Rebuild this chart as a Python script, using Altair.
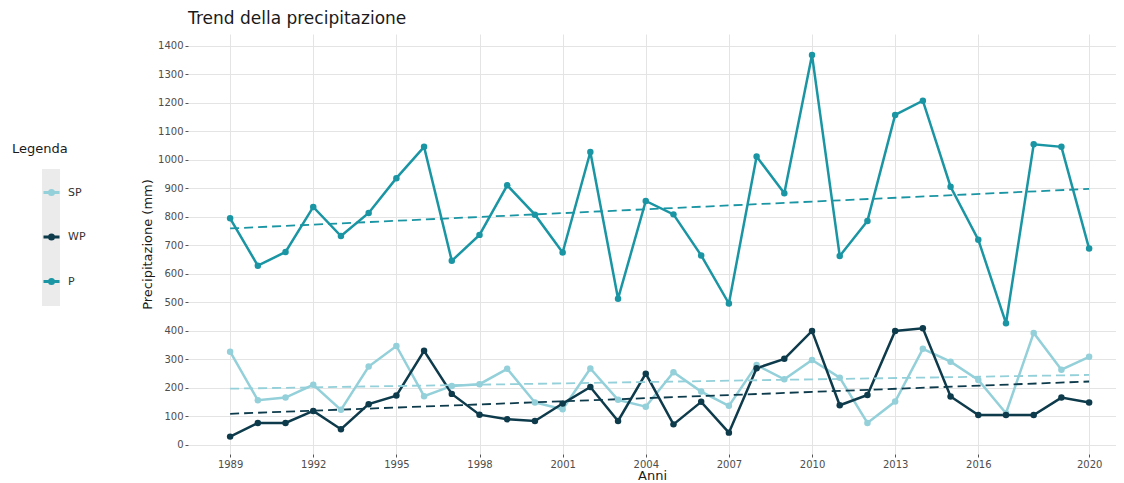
import altair as alt
import pandas as pd

years = list(range(1989, 2021))
P = [795, 629, 677, 835, 733, 814, 936, 1046, 646, 737, 911, 808, 675, 1028, 513, 856,
     809, 665, 496, 1012, 883, 1368, 663, 786, 1158, 1208, 906, 720, 427, 1055, 1046, 689]
SP = [327, 157, 166, 211, 123, 275, 347, 171, 207, 213, 267, 149, 125, 268, 158, 134,
      255, 187, 137, 280, 230, 298, 236, 77, 152, 337, 292, 228, 111, 393, 264, 309]
WP = [29, 77, 77, 119, 55, 143, 173, 330, 179, 106, 90, 84, 145, 203, 84, 250,
      72, 151, 43, 269, 302, 400, 139, 175, 400, 409, 170, 105, 105, 105, 166, 149]
series = ["SP", "WP", "P"]
colors = ["#93d0d9", "#0e3b4c", "#1a95a3"]
x_ticks = [1989, 1992, 1995, 1998, 2001, 2004, 2007, 2010, 2013, 2016, 2020]
y_ticks = list(range(0, 1500, 100))

df = pd.DataFrame({
    "Anno": years * 3,
    "Serie": ["SP"] * len(years) + ["WP"] * len(years) + ["P"] * len(years),
    "Valore": SP + WP + P,
})

FONT = "DejaVu Sans"

color = alt.Color(
    "Serie:N",
    scale=alt.Scale(domain=series, range=colors),
    legend=alt.Legend(
        title=None, orient="none", legendX=-146, legendY=149,
        symbolType="M-1,0L1,0M-0.25,0A0.25,0.25 0 1,0 0.25,0A0.25,0.25 0 1,0 -0.25,0",
        symbolSize=256, symbolStrokeWidth=3, rowPadding=26.5,
        labelFontSize=11, labelColor="#333333", labelFont=FONT, padding=0, labelOffset=7,
    ),
)

x = alt.X("Anno:Q",
          scale=alt.Scale(domain=[1987.48, 2020.97], nice=False, zero=False),
          axis=alt.Axis(values=x_ticks, format="d", title="Anni"))
y = alt.Y("Valore:Q",
          scale=alt.Scale(domain=[-32, 1442], nice=False, zero=False),
          axis=alt.Axis(values=y_ticks, format="d", title="Precipitazione (mm)"))

base = alt.Chart(df).encode(x=x, y=y, color=color)

lines = base.mark_line(strokeWidth=2.5)
points = base.mark_circle(size=42, opacity=1)
trend = base.transform_regression("Anno", "Valore", groupby=["Serie"]).mark_line(
    strokeDash=[9, 5], strokeWidth=1.8)

legend_bg = alt.Chart(pd.DataFrame({"k": [0]})).mark_rect(color="#ebebeb").encode(
    x=alt.value(-146), x2=alt.value(-128), y=alt.value(135), y2=alt.value(272))
legend_title = alt.Chart(pd.DataFrame({"t": ["Legenda"]})).mark_text(
    align="left", baseline="middle", fontSize=13, color="#1a1a1a", font=FONT).encode(
    text="t:N", x=alt.value(-176), y=alt.value(115))

chart = alt.layer(legend_bg, legend_title, lines, trend, points).properties(
    width=928, height=420,
    padding={"left": 4, "top": 2, "right": 0, "bottom": 0},
    title=alt.Title("Trend della precipitazione", anchor="start", frame="group",
                    fontSize=17, fontWeight="normal", font=FONT, color="#1a1a1a", offset=6),
).configure(font=FONT).configure_view(stroke=None).configure_axis(
    gridColor="#e4e4e4", gridWidth=1, domain=False,
    tickColor="#555555", tickSize=3, tickWidth=1,
    labelColor="#4d4d4d", labelFontSize=10, labelPadding=2, labelFont=FONT,
    titleColor="#1a1a1a", titleFontSize=13, titleFontWeight="normal", titleFont=FONT,
).configure_axisX(titlePadding=0).configure_axisY(titlePadding=3)

chart.save("out.html", embed_options={"renderer": "svg", "actions": False})
